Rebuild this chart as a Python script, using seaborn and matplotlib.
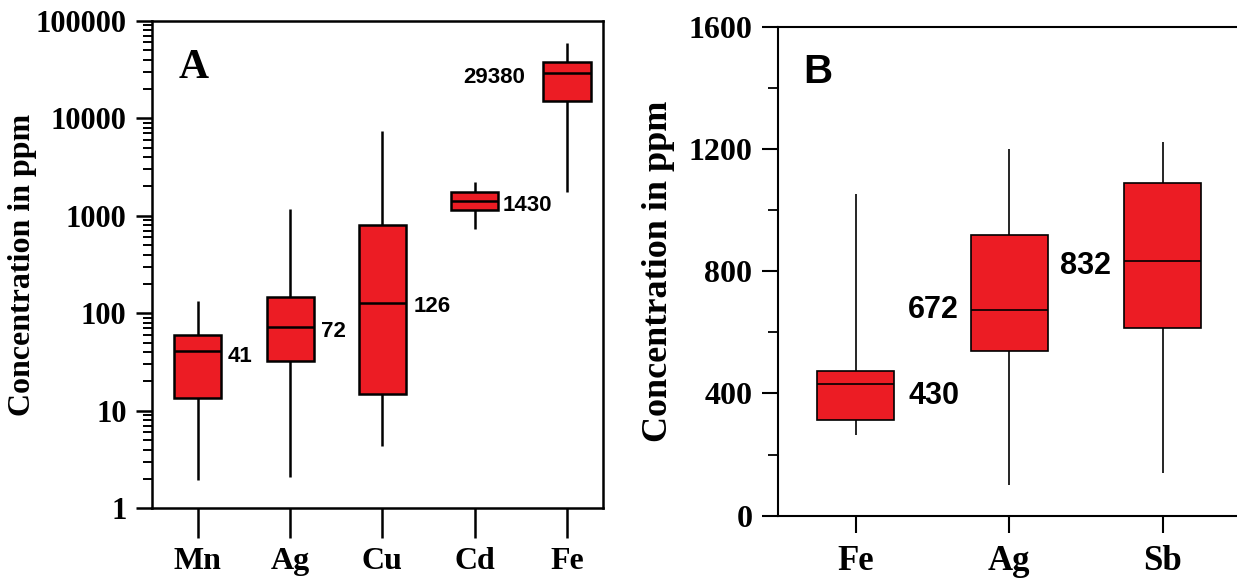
import numpy as np
import pandas as pd
import matplotlib
matplotlib.use("Agg")
import matplotlib.pyplot as plt
import seaborn as sns
from matplotlib.ticker import FuncFormatter, NullFormatter, FixedLocator, LogLocator

# ---------------- data ----------------
elements_a = ["Mn", "Ag", "Cu", "Cd", "Fe"]
low_a = [1.93, 2.1, 4.4, 731, 1753]
q1_a = [13.6, 32.6, 15.0, 1132, 15160]
median_a = [41, 72, 126, 1430, 29380]
q3_a = [59.6, 148, 798, 1738, 37900]
high_a = [133, 1183, 7410, 2218, 58700]
yticks_a = [1, 10, 100, 1000, 10000, 100000]

elements_b = ["Fe", "Ag", "Sb"]
low_b = [263, 101, 140]
q1_b = [312, 540, 615]
median_b = [430, 672, 832]
q3_b = [472, 919, 1089]
high_b = [1053, 1201, 1222]
yticks_b = [0, 400, 800, 1200, 1600]

# ---------------- styles ----------------
RED = "#EC1C24"
SERIF = ["Liberation Serif", "DejaVu Serif"]
SANS = ["Liberation Sans", "DejaVu Sans"]

# label offsets (points) and side for the median annotations
ann_a = [("r", 4.3, -3.6), ("r", 5.0, -3.2), ("r", 5.8, -2.2), ("r", 3.0, -3.6), ("l", -13.0, -3.2)]
ann_b = [("r", 10.0, -8.6), ("l", -8.6, 0.0), ("l", -9.4, -3.6)]


def long_frame(elements, low, q1, med, q3, high):
    rows = []
    for e, a, b, c, d, f in zip(elements, low, q1, med, q3, high):
        for v in (a, b, c, d, f):
            rows.append({"element": e, "value": v})
    return pd.DataFrame(rows)


df_a = long_frame(elements_a, low_a, q1_a, median_a, q3_a, high_a)
df_b = long_frame(elements_b, low_b, q1_b, median_b, q3_b, high_b)

sns.set_style("ticks")
plt.rcParams["font.family"] = SERIF
plt.rcParams.update({"text.color": "black", "axes.labelcolor": "black",
                     "xtick.color": "black", "ytick.color": "black",
                     "axes.edgecolor": "black"})

fig = plt.figure(figsize=(12.37, 5.83), dpi=100)
ax1 = fig.add_axes([0.1231, 0.1281, 0.3644, 0.8364])
ax2 = fig.add_axes([0.629, 0.1154, 0.371, 0.8388])

# ---------------- panel A ----------------
W_A = 0.51
sns.boxplot(data=df_a, x="element", y="value", order=elements_a, ax=ax1,
            log_scale=True, whis=(0, 100), width=W_A, color=RED, saturation=1,
            linecolor="black", linewidth=1.8, showcaps=False, fliersize=0)
ax1.set_ylim(1, 100000)
ax1.set_xlim(-0.493, 4.39)
ax1.yaxis.set_major_locator(FixedLocator(yticks_a))
ax1.yaxis.set_minor_locator(LogLocator(base=10, subs=np.arange(2, 10)))
ax1.yaxis.set_major_formatter(FuncFormatter(lambda v, p: f"{int(round(v))}"))
ax1.yaxis.set_minor_formatter(NullFormatter())
ax1.tick_params(axis="y", which="major", direction="out", length=11.5, width=1.8, pad=7,
                labelsize=22, colors="black")
ax1.tick_params(axis="y", which="minor", direction="out", length=6.5, width=1.4, colors="black")
ax1.tick_params(axis="x", direction="out", length=21.6, width=1.8, pad=6, labelsize=23,
                colors="black")
for lab in ax1.get_xticklabels() + ax1.get_yticklabels():
    lab.set_fontweight("bold")
    lab.set_family(SERIF)
ax1.set_xlabel("")
ax1.set_ylabel("Concentration in ppm", fontsize=23, fontweight="bold", family=SERIF,
               color="black")
ax1.yaxis.set_label_coords(-0.2547, 0.5)
for s in ax1.spines.values():
    s.set_visible(True)
    s.set_linewidth(1.8)
    s.set_color("black")
ax1.text(0.059, 0.8825, "A", transform=ax1.transAxes, fontsize=30, fontweight="bold",
         family=SERIF, ha="left", va="baseline", color="black")
for i, (m, (side, dx, dy)) in enumerate(zip(median_a, ann_a)):
    x = i + W_A / 2 if side == "r" else i - W_A / 2
    ax1.annotate(f"{m}", xy=(x, m), xytext=(dx, dy), textcoords="offset points",
                 ha="left" if side == "r" else "right", va="center", color="black",
                 fontsize=16, fontweight="bold", family=SANS)

# ---------------- panel B ----------------
W_B = 0.5
sns.boxplot(data=df_b, x="element", y="value", order=elements_b, ax=ax2,
            whis=(0, 100), width=W_B, color=RED, saturation=1,
            linecolor="black", linewidth=1.2, showcaps=False, fliersize=0)
ax2.set_ylim(0, 1600)
ax2.set_xlim(-0.507, 2.485)
ax2.yaxis.set_major_locator(FixedLocator(yticks_b))
ax2.yaxis.set_minor_locator(FixedLocator([200, 600, 1000, 1400]))
ax2.yaxis.set_major_formatter(FuncFormatter(lambda v, p: f"{int(round(v))}"))
ax2.tick_params(axis="y", which="major", direction="out", length=11.5, width=1.5, pad=7,
                labelsize=23, colors="black")
ax2.tick_params(axis="y", which="minor", direction="out", length=7, width=1.3, colors="black")
ax2.tick_params(axis="x", direction="out", length=12, width=1.5, pad=9, labelsize=25,
                colors="black")
for lab in ax2.get_xticklabels() + ax2.get_yticklabels():
    lab.set_fontweight("bold")
    lab.set_family(SERIF)
ax2.set_xlabel("")
ax2.set_ylabel("Concentration in ppm", fontsize=26, fontweight="bold", family=SERIF,
               color="black")
ax2.yaxis.set_label_coords(-0.2244, 0.5)
for name, s in ax2.spines.items():
    s.set_linewidth(1.5)
    s.set_color("black")
    s.set_visible(name != "right")
ax2.text(0.0545, 0.885, "B", transform=ax2.transAxes, fontsize=29, fontweight="bold",
         family=SANS, ha="left", va="baseline", color="black")
for i, (m, (side, dx, dy)) in enumerate(zip(median_b, ann_b)):
    x = i + W_B / 2 if side == "r" else i - W_B / 2
    ax2.annotate(f"{m}", xy=(x, m), xytext=(dx, dy), textcoords="offset points",
                 ha="left" if side == "r" else "right", va="center", color="black",
                 fontsize=22, fontweight="bold", family=SANS)

fig.savefig("out.png", dpi=100)
